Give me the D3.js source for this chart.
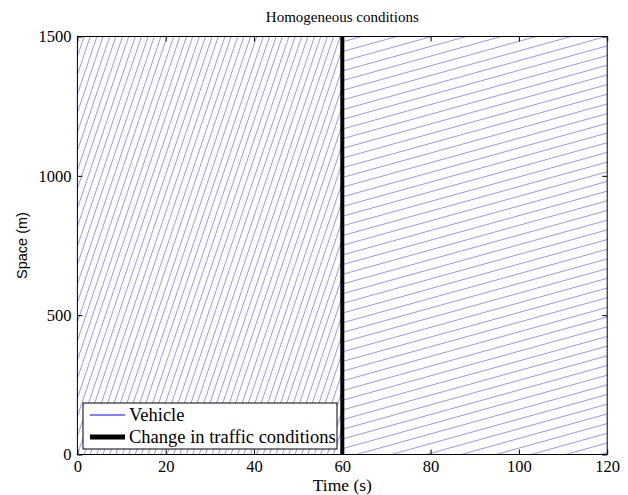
<!DOCTYPE html>
<meta charset="utf-8">
<script src="https://d3js.org/d3.v7.min.js"></script>
<title>Homogeneous conditions</title>
<style>
body { margin: 0; background: #fff; }
svg { font: 15px "Liberation Serif", serif; }
</style>
<svg width="628" height="495"></svg>
<script>

// vehicle entry times (s) at x = 0, before the change
var entryBefore = [-31.9, -30.4, -29.0, -27.5, -26.1, -24.6, -23.2, -21.7, -20.3, -18.8,
  -17.4, -15.9, -14.5, -13.0, -11.6, -10.1, -8.7, -7.2, -5.8, -4.3, -2.9, -1.4, 0.0, 1.5,
  2.9, 4.4, 5.8, 7.3, 8.7, 10.2, 11.6, 13.1, 14.5, 16.0, 17.4, 18.9, 20.3, 21.8, 23.2,
  24.7, 26.1, 27.6, 29.0, 30.5, 31.9, 33.4, 34.8, 36.3, 37.7, 39.2, 40.6, 42.1, 43.5,
  45.0, 46.4, 47.9, 49.3, 50.8, 52.2, 53.7, 55.1, 56.6, 58.0, 59.5];
// vehicle entry times (s) at x = 0, after the change
var entryAfter = [-284.4, -276.5, -268.6, -260.7, -252.8, -244.9, -237.0, -229.1, -221.2,
  -213.3, -205.4, -197.5, -189.6, -181.7, -173.8, -165.9, -158.0, -150.1, -142.2, -134.3,
  -126.4, -118.5, -110.6, -102.7, -94.8, -86.9, -79.0, -71.1, -63.2, -55.3, -47.4, -39.5,
  -31.6, -23.7, -15.8, -7.9, 0.0, 7.9, 15.8, 23.7, 31.6, 39.5, 47.4, 55.3, 63.2, 71.1,
  79.0, 86.9, 94.8, 102.7, 110.6, 118.5];
var speeds = [47, 4.4];          // m/s before / after
var changeTime = 60;
var xTicks = [0, 20, 40, 60, 80, 100, 120];
var yTicks = [0, 500, 1000, 1500];
var legendItems = ["Vehicle", "Change in traffic conditions"];

var svg = d3.select("svg");
var margin = {left: 77.4, right: 20.8, top: 36.5, bottom: 40.5};
var width = 628 - margin.left - margin.right,
    height = 495 - margin.top - margin.bottom;

var x = d3.scaleLinear().domain([0, 120]).range([0, width]);
var y = d3.scaleLinear().domain([0, 1500]).range([height, 0]);

var g = svg.append("g").attr("transform", "translate(" + margin.left + "," + margin.top + ")");

var defs = svg.append("defs");
defs.append("clipPath").attr("id", "clip-before")
  .append("rect").attr("x", 0).attr("y", 0).attr("width", x(changeTime)).attr("height", height);
defs.append("clipPath").attr("id", "clip-after")
  .append("rect").attr("x", x(changeTime)).attr("y", 0).attr("width", width - x(changeTime)).attr("height", height);

function drawVehicles(times, v, clip) {
  g.append("g")
      .attr("clip-path", "url(#" + clip + ")")
    .selectAll("line")
    .data(times)
    .join("line")
      .attr("x1", d => x(d))
      .attr("y1", y(0))
      .attr("x2", d => x(d + 1500 / v))
      .attr("y2", y(1500))
      .attr("stroke", "#4040ff")
      .attr("stroke-width", 0.55);
}
drawVehicles(entryBefore, speeds[0], "clip-before");
drawVehicles(entryAfter, speeds[1], "clip-after");

// change in traffic conditions
g.append("line")
    .attr("x1", x(changeTime)).attr("x2", x(changeTime))
    .attr("y1", y(0)).attr("y2", y(1500))
    .attr("stroke", "#000").attr("stroke-width", 4);

// frame
g.append("rect")
    .attr("width", width).attr("height", height)
    .attr("fill", "none").attr("stroke", "#000").attr("stroke-width", 1);

// inward ticks (matlab style)
var tk = 5;
var fmt = d3.format("d");
g.append("g").attr("transform", "translate(0," + height + ")")
  .call(d3.axisBottom(x).tickValues(xTicks).tickFormat(fmt).tickSizeInner(-tk).tickSizeOuter(0).tickPadding(6))
  .call(a => a.select(".domain").remove());
g.append("g")
  .call(d3.axisTop(x).tickValues(xTicks).tickSizeInner(-tk).tickSizeOuter(0).tickFormat(""))
  .call(a => a.select(".domain").remove());
g.append("g")
  .call(d3.axisLeft(y).tickValues(yTicks).tickFormat(fmt).tickSizeInner(-tk).tickSizeOuter(0).tickPadding(6))
  .call(a => a.select(".domain").remove());
g.append("g").attr("transform", "translate(" + width + ",0)")
  .call(d3.axisRight(y).tickValues(yTicks).tickSizeInner(-tk).tickSizeOuter(0).tickFormat(""))
  .call(a => a.select(".domain").remove());

g.selectAll(".tick text")
    .attr("font-family", "'Liberation Serif', serif")
    .attr("font-size", 16.5)
    .attr("fill", "#000");
g.selectAll(".tick line").attr("stroke", "#000");

// title and labels
svg.append("text")
    .attr("x", margin.left + width / 2).attr("y", 22)
    .attr("text-anchor", "middle")
    .text("Homogeneous conditions");
svg.append("text")
    .attr("x", margin.left + width / 2).attr("y", 490.5)
    .attr("text-anchor", "middle")
    .style("font-size", "17.5px")
    .text("Time (s)");
svg.append("text")
    .attr("transform", "translate(27," + (margin.top + height / 2) + ") rotate(-90)")
    .attr("text-anchor", "middle")
    .style("font", "14.5px 'Liberation Sans', sans-serif")
    .text("Space (m)");

// legend
var lg = svg.append("g").attr("transform", "translate(83,403)");
lg.append("rect")
    .attr("width", 254).attr("height", 46)
    .attr("fill", "#fff").attr("stroke", "#000").attr("stroke-width", 1);
lg.selectAll("line.key")
  .data(legendItems)
  .join("line")
    .attr("class", "key")
    .attr("x1", 7).attr("x2", 42)
    .attr("y1", (d, i) => 12 + i * 22).attr("y2", (d, i) => 12 + i * 22)
    .attr("stroke", (d, i) => i ? "#000" : "#0000ff")
    .attr("stroke-width", (d, i) => i ? 5 : 1);
lg.selectAll("text")
  .data(legendItems)
  .join("text")
    .attr("x", 46)
    .attr("y", (d, i) => 17.5 + i * 22)
    .style("font-size", "18.5px")
    .text(d => d);
</script>
